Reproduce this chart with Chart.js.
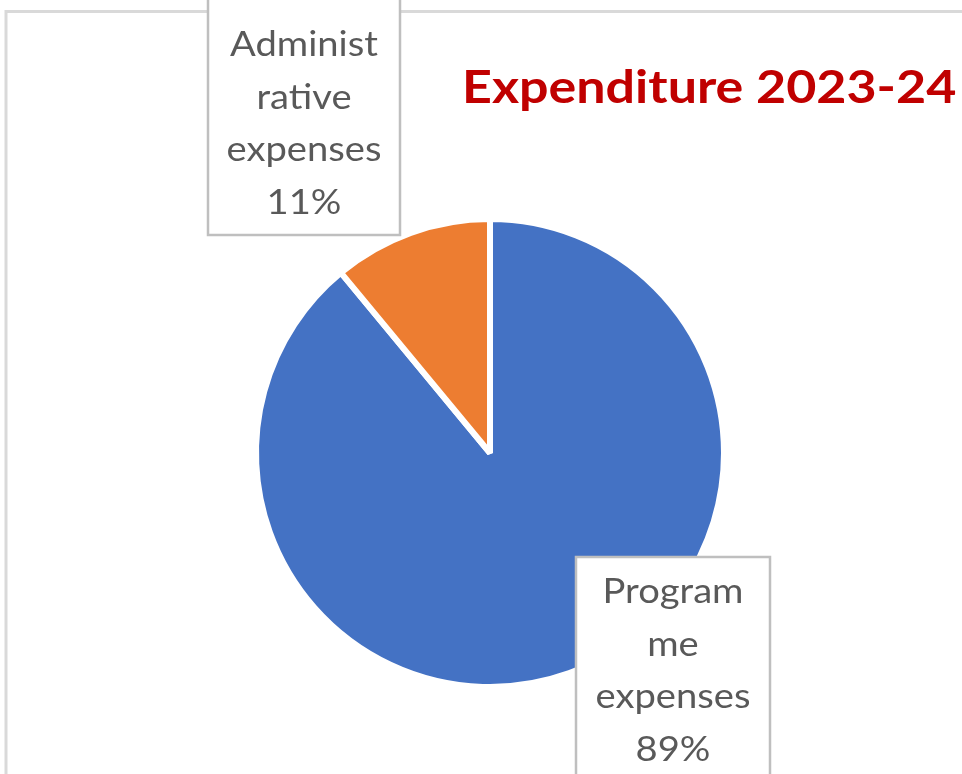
<!DOCTYPE html>
<html>
<head>
<meta charset="utf-8">
<script src="https://cdn.jsdelivr.net/npm/chart.js@4.4.0/dist/chart.umd.min.js"></script>
<style>
  html, body { margin: 0; padding: 0; background: #ffffff; }
  #wrap { width: 962px; height: 774px; position: relative; }
</style>
</head>
<body>
<div id="wrap"><canvas id="c" width="962" height="774"></canvas></div>
<script>
// ---- data ----
const categories = ['Programme expenses', 'Administrative expenses'];
const values = [89, 11];
const labelLines = [['Program', 'me', 'expenses'], ['Administ', 'rative', 'expenses']];
const sliceColors = ['#4472C4', '#ED7D31'];
const titleText = 'Expenditure 2023-24';

// ---- layout (positions only) ----
const boxes = [
  { left: 576, top: 557, right: 770, bottom: 800, cx: 673, firstY: 592 },
  { left: 208, top: -20, right: 400, bottom: 235, cx: 304, firstY: 45 }
];
const LINE_H = 52.5;
const LABEL_FONT = '35px Lato, "Open Sans", sans-serif';
const LABEL_SX = 1.09;
const TITLE_SX = 1.13;

function stretchedText(ctx, text, x, y, sx) {
  ctx.save();
  ctx.translate(x, y);
  ctx.scale(sx, 1);
  ctx.fillText(text, 0, 0);
  ctx.restore();
}

const overlay = {
  id: 'overlay',
  afterDraw(chart) {
    const ctx = chart.ctx;
    ctx.save();
    // outer frame
    ctx.strokeStyle = '#D9D9D9';
    ctx.lineWidth = 3;
    ctx.strokeRect(6, 11.5, 1100, 1000);
    // title
    ctx.fillStyle = '#C00000';
    ctx.font = 'bold 46px Lato, "Open Sans", sans-serif';
    ctx.textAlign = 'left';
    ctx.textBaseline = 'alphabetic';
    stretchedText(ctx, titleText, 462, 103, TITLE_SX);
    // label boxes
    const total = values.reduce((a, b) => a + b, 0);
    boxes.forEach((b, i) => {
      ctx.fillStyle = '#FFFFFF';
      ctx.fillRect(b.left, b.top, b.right - b.left, b.bottom - b.top);
      ctx.strokeStyle = '#BFBFBF';
      ctx.lineWidth = 2.5;
      ctx.strokeRect(b.left, b.top, b.right - b.left, b.bottom - b.top);
      const lines = labelLines[i].concat([Math.round(values[i] / total * 100) + '%']);
      ctx.fillStyle = '#595959';
      ctx.font = LABEL_FONT;
      ctx.textAlign = 'center';
      ctx.textBaseline = 'middle';
      lines.forEach((t, k) => stretchedText(ctx, t, b.cx, b.firstY + k * LINE_H, LABEL_SX));
    });
    ctx.restore();
  }
};

new Chart(document.getElementById('c'), {
  type: 'pie',
  data: {
    labels: categories,
    datasets: [{
      data: values,
      backgroundColor: sliceColors,
      borderColor: '#FFFFFF',
      borderWidth: 6,
      radius: 234
    }]
  },
  options: {
    responsive: false,
    animation: false,
    layout: { padding: { left: 20, right: 2, top: 219, bottom: 87 } },
    plugins: {
      legend: { display: false },
      title: { display: false },
      tooltip: { enabled: false }
    }
  },
  plugins: [overlay]
});
</script>
</body>
</html>
